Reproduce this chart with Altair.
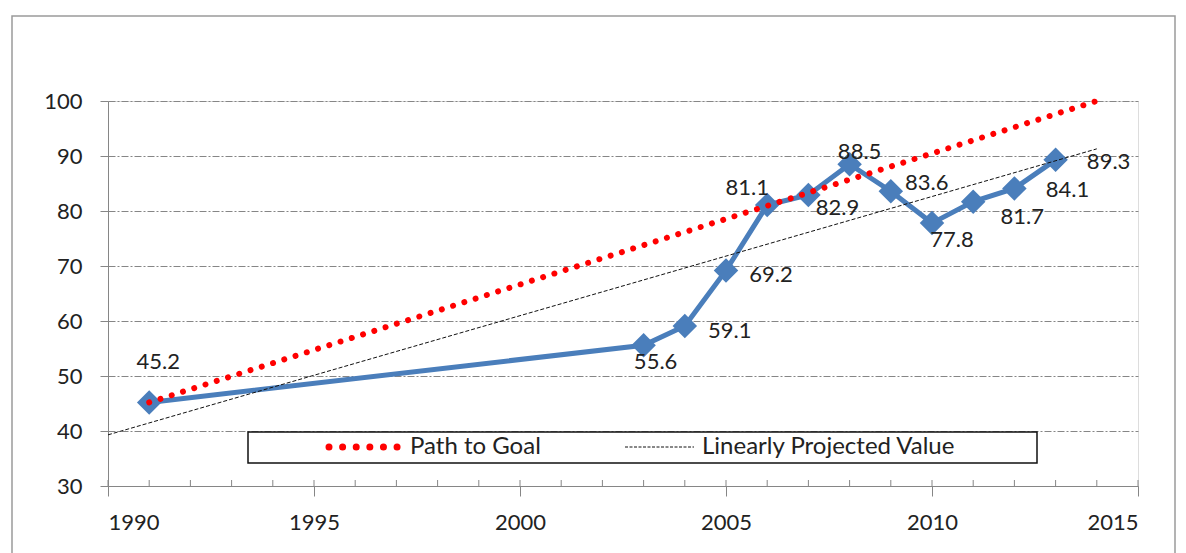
import altair as alt
import pandas as pd

# ---- data ----
years = [1991, 2003, 2004, 2005, 2006, 2007, 2008, 2009, 2010, 2011, 2012, 2013]
values = [45.2, 55.6, 59.1, 69.2, 81.1, 82.9, 88.5, 83.6, 77.8, 81.7, 84.1, 89.3]

goal_years = [1991, 2014]
goal_values = [45.2, 100.0]

proj_years = [1990, 2014]
proj_values = [39.3, 91.3]

x_tick_labels = [1990, 1995, 2000, 2005, 2010, 2015]
y_tick_labels = [30, 40, 50, 60, 70, 80, 90, 100]
minor_years = list(range(1990, 2016))

legend_labels = ["Path to Goal", "Linearly Projected Value"]

# label placement (style, not data): offsets in pixels by year
label_offsets = {
    1991: (9, -40), 2003: (12, 17), 2004: (45, 5), 2005: (45, 5),
    2006: (-20, -17), 2007: (29, 13), 2008: (10, -12), 2009: (36, -8),
    2010: (20, 17), 2011: (49, 15), 2012: (53, 2), 2013: (53, 2),
}

W, H = 1030, 385
FONT = "Lato"
BLUE = "#4a7ebb"
GRAY = "#868686"
TXT = "#222222"

df = pd.DataFrame({"year": years, "value": values,
                   "label": [f"{v:.1f}" for v in values]})
goal_df = pd.DataFrame({"year": goal_years, "value": goal_values})
proj_df = pd.DataFrame({"year": proj_years, "value": proj_values})
minor_df = pd.DataFrame({"year": minor_years})
dummy = pd.DataFrame({"a": [0]})

xscale = alt.Scale(domain=[1990, 2015], nice=False, zero=False)
yscale = alt.Scale(domain=[30, 100], nice=False, zero=False)

xenc = alt.X("year:Q", scale=xscale, axis=alt.Axis(
    values=x_tick_labels, format="d", title=None, grid=False,
    tickSize=10, tickColor=GRAY, domainColor=GRAY, labelPadding=16,
    labelFont=FONT, labelFontSize=22, labelColor=TXT))
yenc = alt.Y("value:Q", scale=yscale, axis=alt.Axis(
    values=y_tick_labels, title=None, grid=True, gridColor=GRAY,
    gridDash=[7, 2, 2, 2], gridWidth=1, tickSize=8, tickColor=GRAY,
    domainColor=GRAY, labelPadding=18, labelFont=FONT, labelFontSize=22,
    labelColor=TXT))

# outer chart border
border = alt.Chart(dummy).mark_rect(fill=None, stroke="#9a9a9a", strokeWidth=1.5).encode(
    x=alt.value(-96), x2=alt.value(1067), y=alt.value(-85), y2=alt.value(470))

axes = alt.Chart(df).mark_point(opacity=0).encode(x=xenc, y=yenc)

minor = alt.Chart(minor_df).mark_rule(color=GRAY, strokeWidth=1).encode(
    x=alt.X("year:Q", scale=xscale), y=alt.value(H - 6), y2=alt.value(H))

blue_line = alt.Chart(df).mark_line(color=BLUE, strokeWidth=5).encode(
    x=alt.X("year:Q", scale=xscale), y=alt.Y("value:Q", scale=yscale))
blue_pts = alt.Chart(df).mark_point(shape="diamond", filled=True, color=BLUE,
                                    size=600, opacity=1).encode(
    x=alt.X("year:Q", scale=xscale), y=alt.Y("value:Q", scale=yscale))

goal = alt.Chart(goal_df).mark_line(color="#ff0000", strokeWidth=6,
                                    strokeDash=[0.01, 11.8], strokeCap="round").encode(
    x=alt.X("year:Q", scale=xscale), y=alt.Y("value:Q", scale=yscale))
proj = alt.Chart(proj_df).mark_line(color="#111111", strokeWidth=1,
                                    strokeDash=[4, 2]).encode(
    x=alt.X("year:Q", scale=xscale), y=alt.Y("value:Q", scale=yscale))

labels = []
for yr, (dx, dy) in label_offsets.items():
    labels.append(
        alt.Chart(df).transform_filter(alt.datum.year == yr).mark_text(
            font=FONT, fontSize=22, color=TXT, dx=dx, dy=dy,
            align="center", baseline="middle").encode(
            x=alt.X("year:Q", scale=xscale), y=alt.Y("value:Q", scale=yscale),
            text="label:N"))

# legend box
leg_box = alt.Chart(dummy).mark_rect(fill="white", stroke="#111111", strokeWidth=1.5).encode(
    x=alt.value(140), x2=alt.value(929), y=alt.value(331), y2=alt.value(362))
leg_dots = alt.Chart(dummy).mark_rule(color="#ff0000", strokeWidth=7,
                                      strokeDash=[0.01, 13.6], strokeCap="round").encode(
    x=alt.value(221), x2=alt.value(292), y=alt.value(346))
leg_dash = alt.Chart(dummy).mark_rule(color="#111111", strokeWidth=1,
                                      strokeDash=[3, 1.5]).encode(
    x=alt.value(517), x2=alt.value(586), y=alt.value(346))
leg_t1 = alt.Chart(dummy).mark_text(font=FONT, fontSize=24, color=TXT, align="left",
                                    baseline="middle", text=legend_labels[0]).encode(
    x=alt.value(302), y=alt.value(346))
leg_t2 = alt.Chart(dummy).mark_text(font=FONT, fontSize=24, color=TXT, align="left",
                                    baseline="middle", text=legend_labels[1]).encode(
    x=alt.value(594), y=alt.value(346))

chart = alt.layer(
    border, axes, minor, blue_line, blue_pts, goal, proj, *labels,
    leg_box, leg_dots, leg_dash, leg_t1, leg_t2
).properties(
    width=W, height=H,
    autosize=alt.AutoSizeParams(type="none"),
    padding={"left": 100, "top": 93, "right": 40, "bottom": 70},
).configure_view(stroke=None).configure(background="white")

chart.save("out.html", embed_options={"renderer": "svg", "actions": False})
